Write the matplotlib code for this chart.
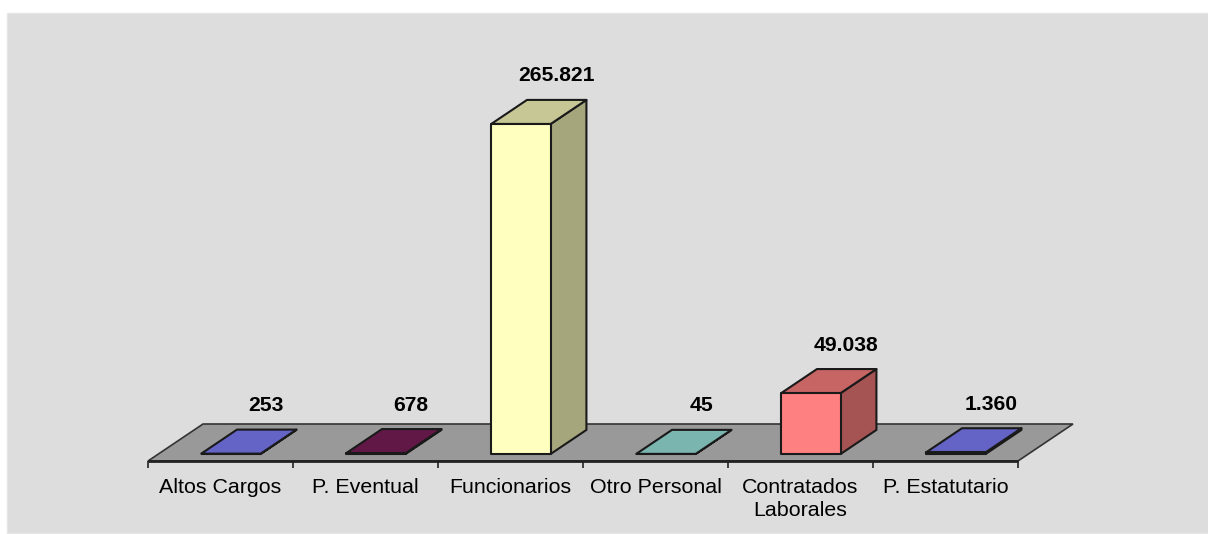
import numpy as np
import matplotlib
matplotlib.use('Agg')
import matplotlib.pyplot as plt
from matplotlib.patches import Polygon, Rectangle

# data
categories = ['Altos Cargos', 'P. Eventual', 'Funcionarios', 'Otro Personal',
              'Contratados\nLaborales', 'P. Estatutario']
values = [253, 678, 265821, 45, 49038, 1360]
value_labels = ['253', '678', '265.821', '45', '49.038', '1.360']

front_colors = ['#8080FF', '#7D1F5B', '#FFFFC0', '#9CE8E2', '#FF8080', '#8080FF']

plt.rcParams['font.family'] = ['Liberation Sans', 'DejaVu Sans']

W, H = 1208, 534
fig = plt.figure(figsize=(W / 100, H / 100), dpi=100)
fig.patch.set_facecolor('white')
# grey chart area
fig.patches.append(Rectangle((7 / W, 1 / H), 1 - 7 / W, (H - 14) / H,
                             transform=fig.transFigure, facecolor='#DDDDDD',
                             edgecolor='#E6E6E6', lw=1, zorder=-10))

ax = fig.add_axes([0, 0, 1, 1])
ax.set_facecolor('none')
ax.axis('off')

# scales: 145 px per category, tallest bar 330 px
cat_px = 145.0
vpp = max(values) / 330.0  # value per pixel
ax.set_xlim(-148 / cat_px, (W - 148) / cat_px)
ax.set_ylim(-73 * vpp, (H - 73) * vpp)

# depth vector of the floor
DX = 55 / cat_px
DY = 37 * vpp
f0, f1 = 0.19, 0.84   # bar depth range
bw = 0.41
n = len(categories)


def shade(c, k):
    r, g, b = matplotlib.colors.to_rgb(c)
    return (r * k, g * k, b * k)


# floor
floor = Polygon([(0, 0), (n, 0), (n + DX, DY), (DX, DY)], closed=True,
                facecolor='#999999', edgecolor='#333333', lw=1.2, zorder=1)
ax.add_patch(floor)
ax.plot([0, n], [0, 0], color='#222222', lw=2, zorder=2, solid_capstyle='butt')
ax.vlines(np.arange(n + 1), -7 * vpp, 0, color='#222222', lw=1.2, zorder=2)

for i, (v, c) in enumerate(zip(values, front_colors)):
    xl = i + 0.5 - bw / 2
    xr = i + 0.5 + bw / 2
    y0 = f0 * DY
    y1 = f1 * DY
    x0 = f0 * DX
    x1 = f1 * DX
    ek = dict(edgecolor='#1A1A1A', lw=1.5, joinstyle='round', zorder=3)
    # side
    ax.add_patch(Polygon([(xr + x0, y0), (xr + x1, y1), (xr + x1, y1 + v),
                          (xr + x0, y0 + v)], closed=True,
                         facecolor=shade(c, 0.65), **ek))
    # top
    ax.add_patch(Polygon([(xl + x0, y0 + v), (xr + x0, y0 + v),
                          (xr + x1, y1 + v), (xl + x1, y1 + v)], closed=True,
                         facecolor=shade(c, 0.78), **ek))
    # front
    ax.add_patch(Polygon([(xl + x0, y0), (xr + x0, y0), (xr + x0, y0 + v),
                          (xl + x0, y0 + v)], closed=True, facecolor=c, **ek))
    # value label
    ax.text(i + 0.5 + (f0 + f1) / 2 * DX + 0.12, y1 + v + 24 * vpp,
            value_labels[i], ha='center', va='center', fontsize=15.2,
            fontweight='bold', color='black', zorder=4)
    # category label
    ax.text(i + 0.5, -17 * vpp, categories[i], ha='center', va='top',
            fontsize=15.4, color='black', linespacing=1.3, zorder=4)

fig.savefig('out.png', dpi=100, facecolor=fig.get_facecolor())
